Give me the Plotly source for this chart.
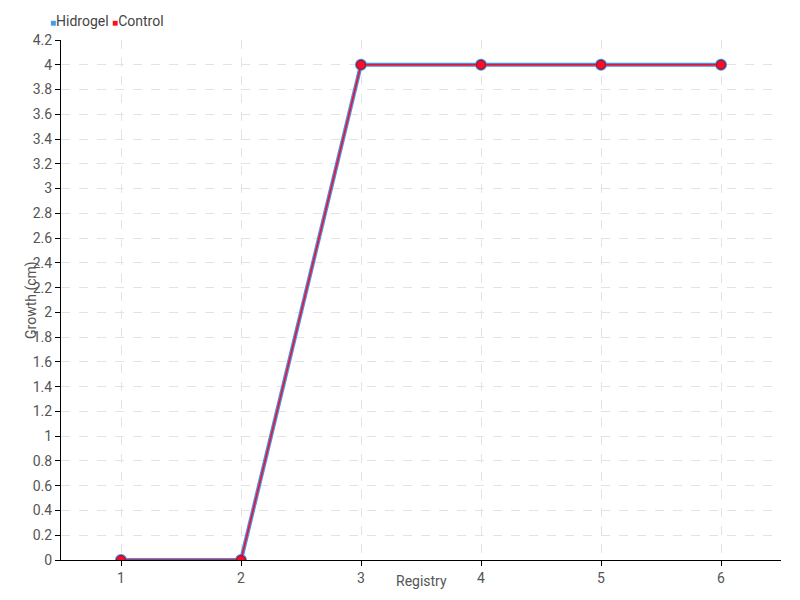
import plotly.graph_objects as go

registry = [1, 2, 3, 4, 5, 6]
hidrogel = [0, 0, 4, 4, 4, 4]
control = [0, 0, 4, 4, 4, 4]
y_ticks = [0, 0.2, 0.4, 0.6, 0.8, 1, 1.2, 1.4, 1.6, 1.8, 2, 2.2, 2.4, 2.6, 2.8, 3, 3.2, 3.4, 3.6, 3.8, 4, 4.2]
y_labels = [str(v) for v in y_ticks]
series_names = ["Hidrogel", "Control"]

FONT = "Roboto, sans-serif"
BLUE = "#4a90e2"
RED = "#ff0a24"
LEGEND_BLUE = "#3d9df5"
TXT = "#555555"

fig = go.Figure()
fig.add_trace(go.Scatter(
    x=registry, y=hidrogel, mode="lines+markers", name=series_names[0], showlegend=False,
    line=dict(color=BLUE, width=4),
    marker=dict(color=BLUE, size=12, line=dict(width=0)),
))
fig.add_trace(go.Scatter(
    x=registry, y=control, mode="lines+markers", name=series_names[1], showlegend=False,
    line=dict(color=RED, width=1.5),
    marker=dict(color=RED, size=9, line=dict(color="#7a1a3a", width=1)),
))

sq = "<span style='font-size:10px;color:{c}'>■</span>"
legend_text = (sq.format(c=LEGEND_BLUE) + series_names[0] + " "
               + sq.format(c=RED) + series_names[1])
fig.add_annotation(text=legend_text, xref="paper", yref="paper", x=0, y=1.0,
                   xanchor="left", yanchor="middle", xshift=-13, yshift=19, showarrow=False,
                   font=dict(family=FONT, size=14, color="#444444"))
# axis titles
fig.add_annotation(text="Registry", xref="paper", yref="paper", x=0.5, y=0,
                   xanchor="center", yanchor="middle", yshift=-21, showarrow=False,
                   font=dict(family=FONT, size=14, color=TXT))
fig.add_annotation(text="Growth (cm)", xref="paper", yref="paper", x=0, y=0.5,
                   xanchor="center", yanchor="middle", xshift=-30, textangle=-90,
                   showarrow=False, font=dict(family=FONT, size=14, color=TXT))

fig.update_layout(
    width=792, height=592,
    margin=dict(l=53, r=19, t=32, b=40),
    paper_bgcolor="white", plot_bgcolor="white",
    showlegend=False,
    font=dict(family=FONT, size=14, color=TXT),
    xaxis=dict(range=[0.5, 6.5], tickvals=registry, ticktext=[str(v) for v in registry],
               showline=True, linecolor="black", linewidth=1, ticks="outside",
               ticklen=5, tickcolor="black", zeroline=False, automargin=False,
               showgrid=True, gridcolor="#e3e3e3", griddash="dash"),
    yaxis=dict(range=[0, 4.2], tickvals=y_ticks, ticktext=y_labels,
               showline=True, linecolor="black", linewidth=1, ticks="outside",
               ticklen=5, tickcolor="black", zeroline=False, automargin=False,
               showgrid=True, gridcolor="#e3e3e3", griddash="dash"),
)

fig.write_html("out.html")
